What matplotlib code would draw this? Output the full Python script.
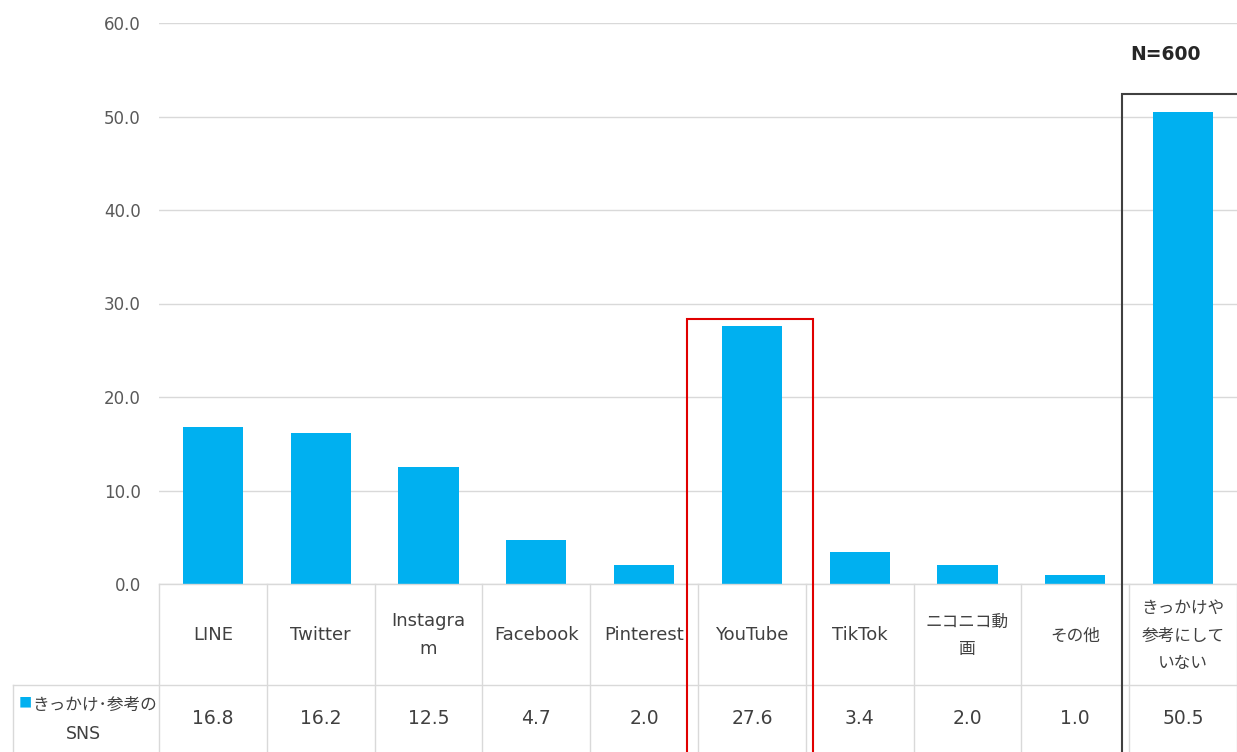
import matplotlib.pyplot as plt
from matplotlib.patches import Rectangle

plt.rcParams['font.family'] = ['DejaVu Sans', 'Noto Sans CJK JP']
JP = ['Noto Sans CJK JP', 'DejaVu Sans']

categories = ['LINE', 'Twitter', 'Instagra\nm', 'Facebook', 'Pinterest', 'YouTube',
              'TikTok', 'ニコニコ動\n画', 'その他', 'きっかけや\n参考にして\nいない']
values = [16.8, 16.2, 12.5, 4.7, 2.0, 27.6, 3.4, 2.0, 1.0, 50.5]
series_name = 'きっかけ･参考の'
series_name2 = 'SNS'
yticks = [0, 10, 20, 30, 40, 50, 60]

bar_color = '#00B0F0'
grid_color = '#d9d9d9'
text_color = '#404040'

W, H = 1237, 752
fig = plt.figure(figsize=(W / 100, H / 100), dpi=100)
ax = fig.add_axes([159 / W, (H - 584) / H, (W - 159) / W, (584 - 23) / H])

n = len(categories)
x = list(range(n))
ax.bar(x, values, width=0.56, color=bar_color, zorder=2)
ax.set_xlim(-0.5, n - 0.5)
ax.set_ylim(0, 60)
ax.set_yticks(yticks)
ax.set_yticklabels(['%.1f' % t for t in yticks], color='#595959', fontsize=12)
ax.tick_params(axis='y', length=0, pad=13)
ax.set_xticks([])
ax.grid(axis='y', color=grid_color, linewidth=1, zorder=0)
for s in ax.spines.values():
    s.set_visible(False)

# data table below the plot (y in data units, negative = below axis)
upy = 60 / 561.0  # data units per pixel
row1 = -(685 - 584) * upy
row2 = -(752 - 584) * upy - 1
left_cell = -0.5 - (159 - 13) / 107.8

ax.plot([-0.5, n - 0.5], [0, 0], color=grid_color, lw=1, clip_on=False, zorder=3)
ax.plot([left_cell, n - 0.5], [row1, row1], color=grid_color, lw=1, clip_on=False)
for i in range(n + 1):
    ax.plot([i - 0.5, i - 0.5], [0, row2], color=grid_color, lw=1, clip_on=False)
ax.plot([left_cell, left_cell], [row1, row2], color=grid_color, lw=1, clip_on=False)

for i, (c, v) in enumerate(zip(categories, values)):
    if c.isascii():
        ax.text(i, -(635 - 584) * upy, c, ha='center', va='center', fontsize=13,
                color=text_color, linespacing=1.65, clip_on=False)
    else:
        ax.text(i, -(636 - 584) * upy, c, ha='center', va='center', fontsize=12,
                color=text_color, linespacing=1.8, clip_on=False, family=JP)
    ax.text(i, -(718 - 584) * upy, '%.1f' % v, ha='center', va='center',
            fontsize=13.5, color=text_color, clip_on=False)

ax.text(left_cell + 0.05, -(704 - 584) * upy, '■', ha='left', va='center',
        fontsize=9.5, color=bar_color, clip_on=False, family=JP)
ax.text(left_cell + 0.18, -(705 - 584) * upy, series_name, ha='left', va='center',
        fontsize=12, color=text_color, clip_on=False, family=JP)
ax.text((left_cell - 0.5) / 2 - 0.02, -(734 - 584) * upy, series_name2, ha='center',
        va='center', fontsize=12.5, color=text_color, clip_on=False)

# highlight boxes
def px2x(px):
    return (px - 159) / 107.8 - 0.5

red = Rectangle((px2x(687), row2), px2x(813) - px2x(687), (584 - 319) * upy - row2,
                fill=False, edgecolor='#e00000', lw=1.5, clip_on=False, zorder=4)
ax.add_patch(red)
blk = Rectangle((px2x(1122), row2), px2x(1260) - px2x(1122), (584 - 94) * upy - row2,
                fill=False, edgecolor='#404040', lw=1.5, clip_on=False, zorder=4)
ax.add_patch(blk)

fig.text(1166 / W, 1 - 54 / H, 'N=600', ha='center', va='center', fontsize=13.5,
         fontweight='bold', color='#262626')

fig.savefig('out.png', dpi=100)
